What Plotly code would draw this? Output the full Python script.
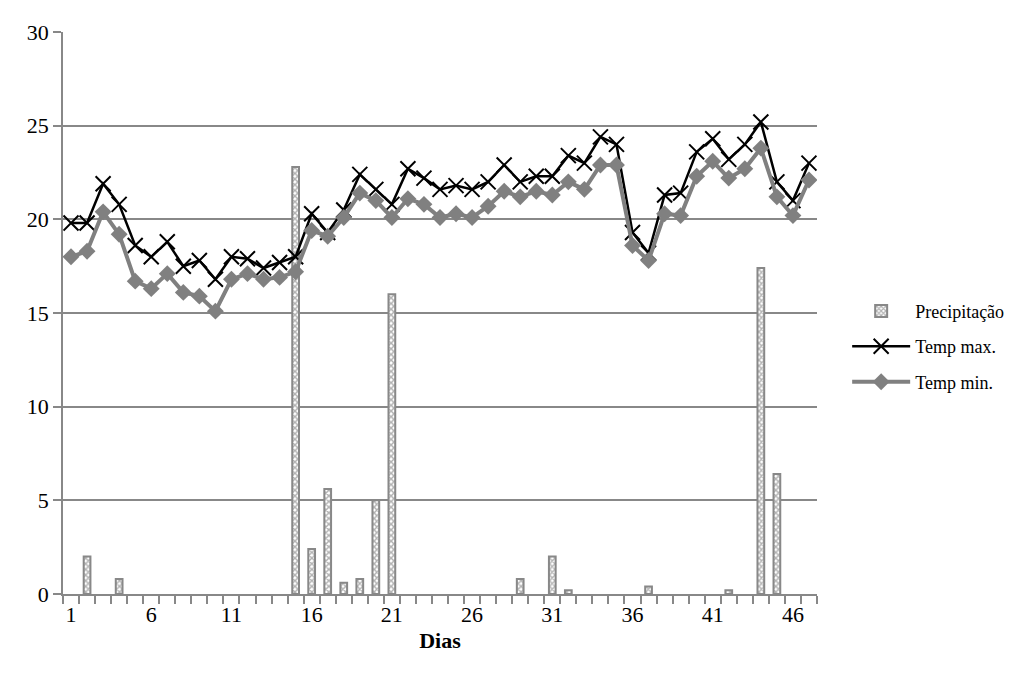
import plotly.graph_objects as go

dias = list(range(1, 48))

precipitacao = [0, 2.0, 0, 0.8, 0, 0, 0, 0, 0, 0,
                0, 0, 0, 0, 22.8, 2.4, 5.6, 0.6, 0.8, 5.0,
                16.0, 0, 0, 0, 0, 0, 0, 0, 0.8, 0,
                2.0, 0.2, 0, 0, 0, 0, 0.4, 0, 0, 0,
                0, 0.2, 0, 17.4, 6.4, 0, 0]

temp_max = [19.8, 19.8, 21.9, 20.8, 18.6, 18.0, 18.8, 17.5, 17.8, 16.8,
            18.0, 17.9, 17.4, 17.7, 18.0, 20.3, 19.3, 20.5, 22.4, 21.6,
            20.8, 22.7, 22.2, 21.6, 21.8, 21.6, 22.0, 22.9, 22.0, 22.3,
            22.3, 23.4, 23.0, 24.4, 24.0, 19.3, 18.2, 21.3, 21.4, 23.6,
            24.3, 23.2, 24.0, 25.2, 22.0, 21.0, 23.0]

temp_min = [18.0, 18.3, 20.4, 19.2, 16.7, 16.3, 17.1, 16.1, 15.9, 15.1,
            16.8, 17.1, 16.8, 16.9, 17.2, 19.4, 19.1, 20.1, 21.4, 21.0,
            20.1, 21.1, 20.8, 20.1, 20.3, 20.1, 20.7, 21.5, 21.2, 21.5,
            21.3, 22.0, 21.6, 22.9, 22.9, 18.6, 17.8, 20.3, 20.2, 22.3,
            23.1, 22.2, 22.7, 23.8, 21.2, 20.2, 22.1]

x_ticks = [1, 6, 11, 16, 21, 26, 31, 36, 41, 46]
y_ticks = [0, 5, 10, 15, 20, 25, 30]

FONT = "Liberation Serif"

# days without rain draw no bar at all
precip_plot = [v if v > 0 else None for v in precipitacao]

fig = go.Figure()
fig.add_trace(go.Bar(
    x=dias, y=precip_plot, name="Precipitação", legendgroup="a",
    width=0.42,
    marker=dict(color="white",
                line=dict(color="#888888", width=2),
                pattern=dict(shape="x", fgcolor="#666666", bgcolor="white",
                             size=4, solidity=0.6)),
))
fig.add_trace(go.Scatter(
    x=dias, y=temp_max, name="Temp max.", legendgroup="b", mode="lines+markers",
    line=dict(color="black", width=2.5),
    marker=dict(symbol="x-thin-open", size=15, color="black",
                line=dict(color="black", width=2)),
))
fig.add_trace(go.Scatter(
    x=dias, y=temp_min, name="Temp min.", legendgroup="c", mode="lines+markers",
    line=dict(color="#808080", width=4),
    marker=dict(symbol="diamond", size=13, color="#808080"),
))

fig.update_layout(
    width=1033, height=675,
    margin=dict(l=55, r=224, t=19, b=89),
    paper_bgcolor="white", plot_bgcolor="white",
    font=dict(family=FONT, size=22, color="black"),
    showlegend=True,
    legend=dict(x=1.04, y=0.44, xanchor="left", yanchor="middle",
                font=dict(family=FONT, size=18, color="black"),
                itemwidth=58,
                traceorder="grouped", tracegroupgap=9,
                bgcolor="rgba(0,0,0,0)"),
)
fig.update_xaxes(
    range=[0.5, 47.5],
    tickmode="array", tickvals=x_ticks, ticktext=[str(v) for v in x_ticks],
    ticks="", showgrid=False, zeroline=False,
    showline=True, linecolor="#888888", linewidth=1.5,
    tickfont=dict(family=FONT, size=22),
    minor=dict(tickmode="array", tickvals=[i + 0.5 for i in range(0, 48)],
               ticks="outside", ticklen=8, tickcolor="#888888", tickwidth=1.5,
               showgrid=False),
    title=dict(text="<b>Dias</b>", font=dict(family=FONT, size=22), standoff=6),
)
fig.update_yaxes(
    range=[0, 30], tickmode="array", tickvals=y_ticks,
    ticks="outside", ticklen=8, tickcolor="#888888", tickwidth=1.5,
    showgrid=True, gridcolor="#888888", gridwidth=1.5,
    zeroline=False, showline=True, linecolor="#888888", linewidth=1.5,
    tickfont=dict(family=FONT, size=22),
)

fig.write_html("out.html")
